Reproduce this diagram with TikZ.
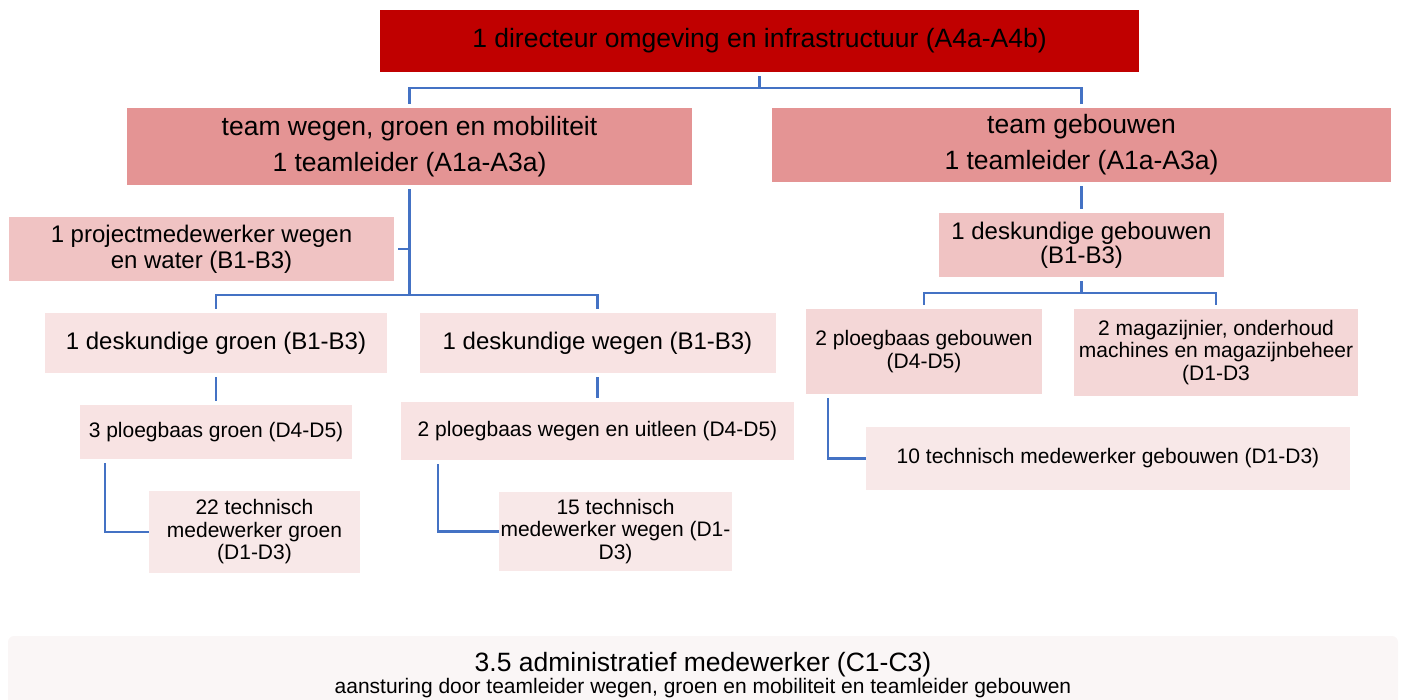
\documentclass[tikz,border=0pt]{standalone}
\usepackage{xcolor}
\usepackage{fontspec}
\setmainfont{Liberation Sans}
\usepackage{tikz}

\definecolor{topred}{HTML}{C00000}
\definecolor{teamred}{HTML}{E49494}
\definecolor{midpink}{HTML}{F0C3C3}
\definecolor{lowpink}{HTML}{F4D7D7}
\definecolor{lightpink}{HTML}{F8E3E3}
\definecolor{palepink}{HTML}{F8E8E8}
\definecolor{adminpink}{HTML}{FAF6F6}
\definecolor{lineblue}{HTML}{4472C4}

\tikzset{
  box/.style={rectangle, inner sep=0pt, align=center, text=black},
  conn/.style={draw=lineblue, line width=2.5pt, shorten >=4pt, shorten <=4pt},
  big/.style={font=\fontsize{26.5}{36}\selectfont},
  mid/.style={font=\fontsize{24}{24}\selectfont},
  small/.style={font=\fontsize{21}{22.5}\selectfont}
}

\begin{document}
\begin{tikzpicture}[x=1pt, y=-1pt]
  \useasboundingbox (0,0) rectangle (1404,699);

  \node[box, big, fill=topred, minimum width=759pt, minimum height=62pt] (dir) at (759.5,41)
    {1 directeur omgeving en infrastructuur (A4a-A4b)};
  \node[box, big, fill=teamred, minimum width=565pt, minimum height=77pt] (wegen) at (409.5,146.5)
    {team wegen, groen en mobiliteit\\1 teamleider (A1a-A3a)};
  \node[box, big, fill=teamred, minimum width=619pt, minimum height=74pt] (gebouw) at (1081.5,145)
    {team gebouwen\\1 teamleider (A1a-A3a)};

  \node[box, mid, fill=midpink, minimum width=385pt, minimum height=64pt] (project) at (201.5,249)
    {1 projectmedewerker wegen\\[2pt]en water (B1-B3)};
  \node[box, mid, fill=lightpink, minimum width=342pt, minimum height=60pt] (dgroen) at (216,343)
    {1 deskundige groen (B1-B3)};
  \node[box, mid, fill=lightpink, minimum width=356pt, minimum height=60pt] (dwegen) at (597.5,343)
    {1 deskundige wegen (B1-B3)};
  \node[box, small, fill=lightpink, minimum width=272pt, minimum height=54pt] (pgroen) at (216,432)
    {3 ploegbaas groen (D4-D5)};
  \node[box, small, fill=lightpink, minimum width=393pt, minimum height=58pt] (pwegen) at (597.5,431)
    {2 ploegbaas wegen en uitleen (D4-D5)};
  \node[box, small, fill=palepink, minimum width=211pt, minimum height=82pt] (tgroen) at (254.5,532)
    {22 technisch\\medewerker groen\\(D1-D3)};
  \node[box, small, fill=palepink, minimum width=233pt, minimum height=79pt] (twegen) at (615.5,531.5)
    {15 technisch\\medewerker wegen (D1-\\D3)};

  \node[box, mid, fill=midpink, minimum width=285pt, minimum height=64pt] (dgeb) at (1081.5,245)
    {1 deskundige gebouwen\\(B1-B3)};
  \node[box, small, fill=lowpink, minimum width=236pt, minimum height=85pt] (pgeb) at (924,351.5)
    {2 ploegbaas gebouwen\\(D4-D5)};
  \node[box, small, fill=lowpink, minimum width=284pt, minimum height=87pt] (magaz) at (1216,352.5)
    {2 magazijnier, onderhoud\\machines en magazijnbeheer\\(D1-D3};
  \node[box, small, fill=palepink, minimum width=484pt, minimum height=63pt] (tgeb) at (1108,458.5)
    {10 technisch medewerker gebouwen (D1-D3)};

  \node[box, fill=adminpink, rounded corners=6pt, minimum width=1390pt, minimum height=78pt] (admin) at (703,675)
    {{\fontsize{26.5}{28}\selectfont 3.5 administratief medewerker (C1-C3)}\\[1pt]
     {\fontsize{21}{22}\selectfont aansturing door teamleider wegen, groen en mobiliteit en teamleider gebouwen}};

  \coordinate (split1) at (759.5,88);
  \coordinate (split2) at (409.5,295);
  \coordinate (split3) at (1081.5,293);

  \draw[conn, shorten >=0pt] (dir.south) -- (split1);
  \draw[conn, shorten <=0pt] (split1) -| (wegen.north);
  \draw[conn, shorten <=0pt] (split1) -| (gebouw.north);

  \draw[conn, shorten >=0pt] (wegen.south) -- (split2);
  \draw[conn, shorten >=0pt] (project.east) -- (project.east -| split2);
  \draw[conn, shorten <=0pt] (split2) -| (dgroen.north);
  \draw[conn, shorten <=0pt] (split2) -| (dwegen.north);
  \draw[conn] (dgroen.south) -- (pgroen.north);
  \draw[conn] (dwegen.south) -- (pwegen.north);
  \draw[conn, shorten >=0pt] ([xshift=25pt]pgroen.south west) |- (tgroen.west);
  \draw[conn, shorten >=0pt] ([xshift=37pt]pwegen.south west) |- (twegen.west);

  \draw[conn] (gebouw.south) -- (dgeb.north);
  \draw[conn, shorten >=0pt] (dgeb.south) -- (split3);
  \draw[conn, shorten <=0pt] (split3) -| (pgeb.north);
  \draw[conn, shorten <=0pt] (split3) -| (magaz.north);
  \draw[conn, shorten >=0pt] ([xshift=22pt]pgeb.south west) |- (tgeb.west);
\end{tikzpicture}
\end{document}
